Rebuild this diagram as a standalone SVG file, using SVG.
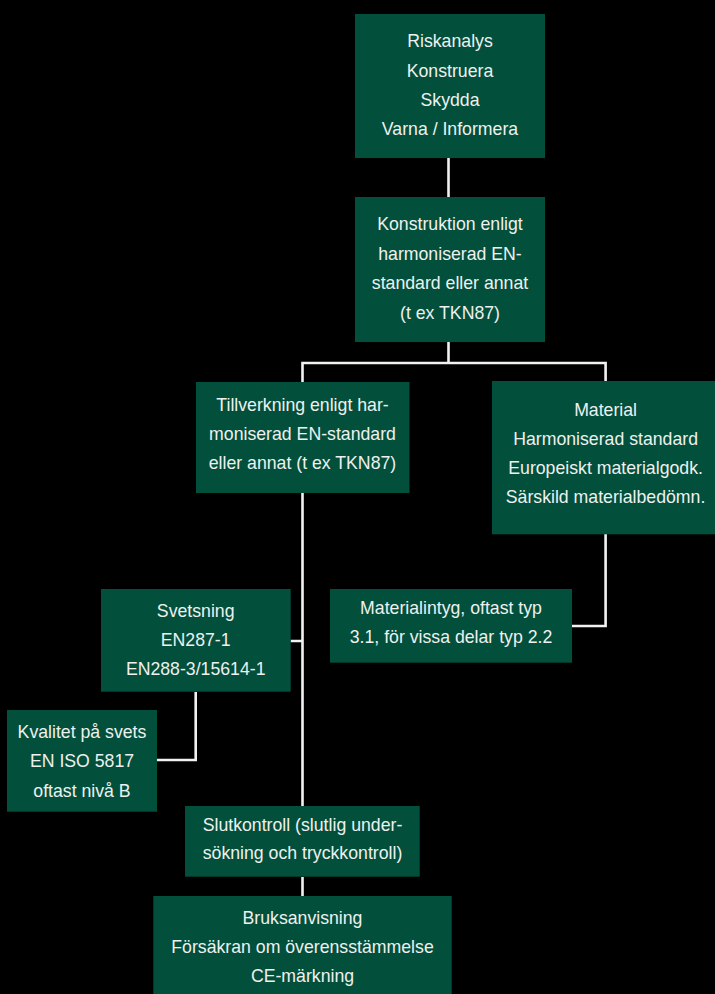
<svg xmlns="http://www.w3.org/2000/svg" width="715" height="994" viewBox="0 0 715 994">
<style>
.box{fill:#024f3c}
.t{font-family:"Liberation Sans",Arial,sans-serif;font-size:17.7px;fill:#eef1ee;text-anchor:middle}
.c{fill:none;stroke:#f2f2f2;stroke-width:2.6}
</style>
<rect width="715" height="994" fill="#000"/>
<g id="connectors">
<path class="c" d="M448.5 158V197"/>
<path class="c" d="M448.5 342V363M302.5 382V363H605.6V381"/>
<path class="c" d="M605.6 534V626H572"/>
<path class="c" d="M302.5 493V806M290.5 641H302.5"/>
<path class="c" d="M195.7 692V760H157"/>
<path class="c" d="M302.5 877V896"/>
</g>
<g id="n1"><rect class="box" x="355" y="14" width="190" height="144"/>
<text class="t" x="450" y="47.3">Riskanalys</text><text class="t" x="450" y="76.5">Konstruera</text><text class="t" x="450" y="106">Skydda</text><text class="t" x="450" y="135">Varna / Informera</text></g>
<g id="n2"><rect class="box" x="355" y="197" width="190" height="145"/>
<text class="t" x="450" y="230">Konstruktion enligt</text><text class="t" x="450" y="259.5">harmoniserad EN-</text><text class="t" x="450" y="289">standard eller annat</text><text class="t" x="450" y="318.5">(t ex TKN87)</text></g>
<g id="n3"><rect class="box" x="196" y="382" width="213.5" height="111"/>
<text class="t" x="302.5" y="411">Tillverkning enligt har-</text><text class="t" x="302.5" y="440">moniserad EN-standard</text><text class="t" x="302.5" y="469">eller annat (t ex TKN87)</text></g>
<g id="n4"><rect class="box" x="492" y="381" width="230" height="153.3"/>
<text class="t" x="605.6" y="416">Material</text><text class="t" x="605.6" y="445">Harmoniserad standard</text><text class="t" x="605.6" y="474">Europeiskt materialgodk.</text><text class="t" x="605.6" y="503.3">Särskild materialbedömn.</text></g>
<g id="n5"><rect class="box" x="330" y="589" width="242" height="73.7"/>
<text class="t" x="451" y="614.3">Materialintyg, oftast typ</text><text class="t" x="451" y="642.7">3.1, för vissa delar typ 2.2</text></g>
<g id="n6"><rect class="box" x="101" y="589" width="189.7" height="102.7"/>
<text class="t" x="195.7" y="616.7">Svetsning</text><text class="t" x="195.7" y="645.7">EN287-1</text><text class="t" x="195.7" y="675">EN288-3/15614-1</text></g>
<g id="n7"><rect class="box" x="7" y="710" width="150" height="101.7"/>
<text class="t" x="82" y="737.7">Kvalitet på svets</text><text class="t" x="82" y="766.7">EN ISO 5817</text><text class="t" x="82" y="796.7">oftast nivå B</text></g>
<g id="n8"><rect class="box" x="185" y="806" width="234.7" height="70.7"/>
<text class="t" x="302.5" y="830.7">Slutkontroll (slutlig under-</text><text class="t" x="302.5" y="859.3">sökning och tryckkontroll)</text></g>
<g id="n9"><rect class="box" x="153.3" y="896" width="298.4" height="100"/>
<text class="t" x="302.5" y="924.3">Bruksanvisning</text><text class="t" x="302.5" y="952.7">Försäkran om överensstämmelse</text><text class="t" x="302.5" y="981.7">CE-märkning</text></g>
</svg>
